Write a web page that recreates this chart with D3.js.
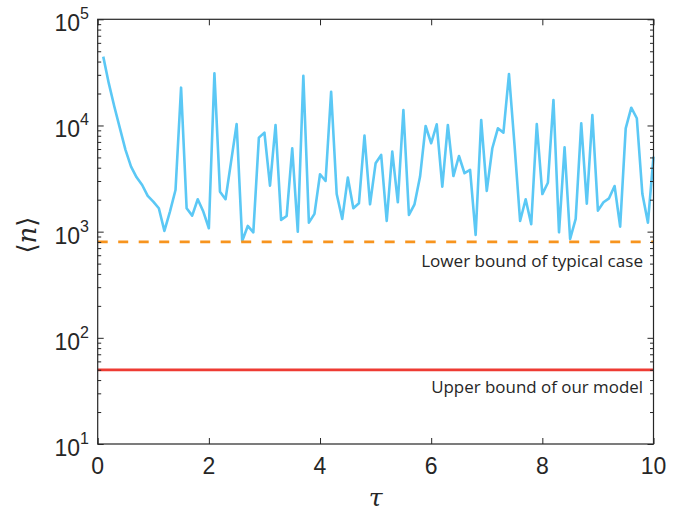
<!DOCTYPE html>
<html><head><meta charset="utf-8">
<script src="https://cdn.jsdelivr.net/npm/d3@7"></script>
<style>html,body{margin:0;padding:0;background:#fff;}</style>
</head><body>
<svg id="chart" width="687" height="513"></svg>
<script>
const tau = d3.range(1, 101).map(i => i / 10);
const nValues = [
  44500, 24900, 15000, 9400, 5900, 4100, 3250, 2750, 2170, 1920,
  1660, 1016, 1545, 2470, 22700, 1660, 1415, 2020, 1545, 1076,
  31000, 2380, 2020, 4560, 10330, 817, 1132, 986, 7680, 8560,
  2710, 10110, 1290, 1405, 6100, 1000, 29400, 1216, 1470, 3470,
  3000, 20800, 2260, 1318, 3230, 1660, 1850, 8020, 1810, 4400,
  5280, 1260, 5670, 1890, 14000, 1437, 1810, 3300, 9890, 6800,
  10260, 2650, 10110, 3340, 5160, 3550, 3810, 930, 11270, 2420,
  6100, 9400, 8560, 30550, 6500, 1260, 2020, 1173, 10330, 2260,
  2890, 17400, 986, 6230, 853, 1318, 10500, 1830, 12560, 1578,
  1890, 2060, 2690, 1114, 9400, 14700, 11700, 2260, 1216, 5080
];
const lowerBoundTypical = 800;
const upperBoundModel = 50;
const xTicks = [0, 2, 4, 6, 8, 10];
const yTickExps = [1, 2, 3, 4, 5];
const labelLower = "Lower bound of typical case";
const labelUpper = "Upper bound of our model";

const svg = d3.select("#chart");
const L = 97.7, R = 653.5, T = 19.3, B = 444;
const x = d3.scaleLinear().domain([0, 10]).range([L, R]);
const y = d3.scaleLog().domain([10, 1e5]).range([B, T]);
const axisColor = "#262626";

// data line
const line = d3.line().x((d, i) => x(tau[i])).y(d => y(d));
svg.append("path").datum(nValues)
  .attr("d", line).attr("fill", "none")
  .attr("stroke", "#5BC8F5").attr("stroke-width", 2.6)
  .attr("stroke-linejoin", "round");

// reference lines
svg.append("line").attr("x1", x(0)).attr("x2", x(10))
  .attr("y1", y(lowerBoundTypical)).attr("y2", y(lowerBoundTypical))
  .attr("stroke", "#F7941E").attr("stroke-width", 2.8)
  .attr("stroke-dasharray", "10,10.5");
svg.append("line").attr("x1", x(0)).attr("x2", x(10))
  .attr("y1", y(upperBoundModel)).attr("y2", y(upperBoundModel))
  .attr("stroke", "#EE3B33").attr("stroke-width", 2.8);

// annotations
const annFont = "'Open Sans', sans-serif";
function ann(txt, yy, targetW) {
  const t = svg.append("text").attr("x", 643).attr("y", yy)
    .attr("text-anchor", "end").attr("font-family", annFont)
    .attr("font-size", 16).attr("fill", axisColor).text(txt);
  const w = t.node().getComputedTextLength();
  t.attr("font-size", 16 * targetW / w);
}
ann(labelLower, y(lowerBoundTypical) + 25, 222);
ann(labelUpper, y(upperBoundModel) + 23.5, 212);

// axes with inward ticks
const yMinor = [];
for (let e = 1; e < 5; e++) for (let m = 2; m <= 9; m++) yMinor.push(m * Math.pow(10, e));

const axG = svg.append("g");
const leftAxis = d3.axisRight(y).tickValues(yTickExps.map(e => Math.pow(10, e))).tickSize(6).tickFormat("");
const leftMinor = d3.axisRight(y).tickValues(yMinor).tickSize(3.5).tickFormat("");
const rightAxis = d3.axisLeft(y).tickValues(yTickExps.map(e => Math.pow(10, e))).tickSize(6).tickFormat("");
const rightMinor = d3.axisLeft(y).tickValues(yMinor).tickSize(3.5).tickFormat("");
const bottomAxis = d3.axisTop(x).tickValues(xTicks).tickSize(6).tickFormat("");
const topAxis = d3.axisBottom(x).tickValues(xTicks).tickSize(6).tickFormat("");

[[leftAxis, `translate(${L},0)`], [leftMinor, `translate(${L},0)`],
 [rightAxis, `translate(${R},0)`], [rightMinor, `translate(${R},0)`],
 [bottomAxis, `translate(0,${B})`], [topAxis, `translate(0,${T})`]].forEach(([a, tr]) => {
  const g = axG.append("g").attr("transform", tr).call(a);
  g.select(".domain").remove();
  g.selectAll(".tick line").attr("stroke", axisColor).attr("stroke-width", 1);
});
svg.append("rect").attr("x", L).attr("y", T).attr("width", R - L).attr("height", B - T)
  .attr("fill", "none").attr("stroke", axisColor).attr("stroke-width", 1.2);

// y tick labels
const tickFont = "'Liberation Sans', Arial, sans-serif";
yTickExps.forEach(e => {
  const t = svg.append("text").attr("x", 89).attr("y", y(Math.pow(10, e)) + 12)
    .attr("text-anchor", "end").attr("font-family", tickFont).attr("fill", axisColor);
  t.append("tspan").attr("font-size", 23).text("10");
  t.append("tspan").attr("font-size", 16).attr("dy", -12).text(String(e));
});
// x tick labels
xTicks.forEach(v => {
  svg.append("text").attr("x", x(v)).attr("y", B + 30)
    .attr("text-anchor", "middle").attr("font-family", tickFont)
    .attr("font-size", 23).attr("fill", axisColor).text(String(v));
});
// axis titles
svg.append("text").attr("x", (L + R) / 2).attr("y", 506)
  .attr("text-anchor", "middle").attr("font-family", "'DejaVu Serif', serif")
  .attr("font-style", "italic").attr("font-size", 25).attr("fill", axisColor).text("τ");
svg.append("text").attr("transform", "translate(36,235) rotate(-90)")
  .attr("text-anchor", "middle").attr("font-family", "'DejaVu Serif', serif")
  .attr("font-size", 26).attr("fill", axisColor)
  .html("⟨<tspan font-style='italic'>n</tspan>⟩");
</script>
</body></html>
